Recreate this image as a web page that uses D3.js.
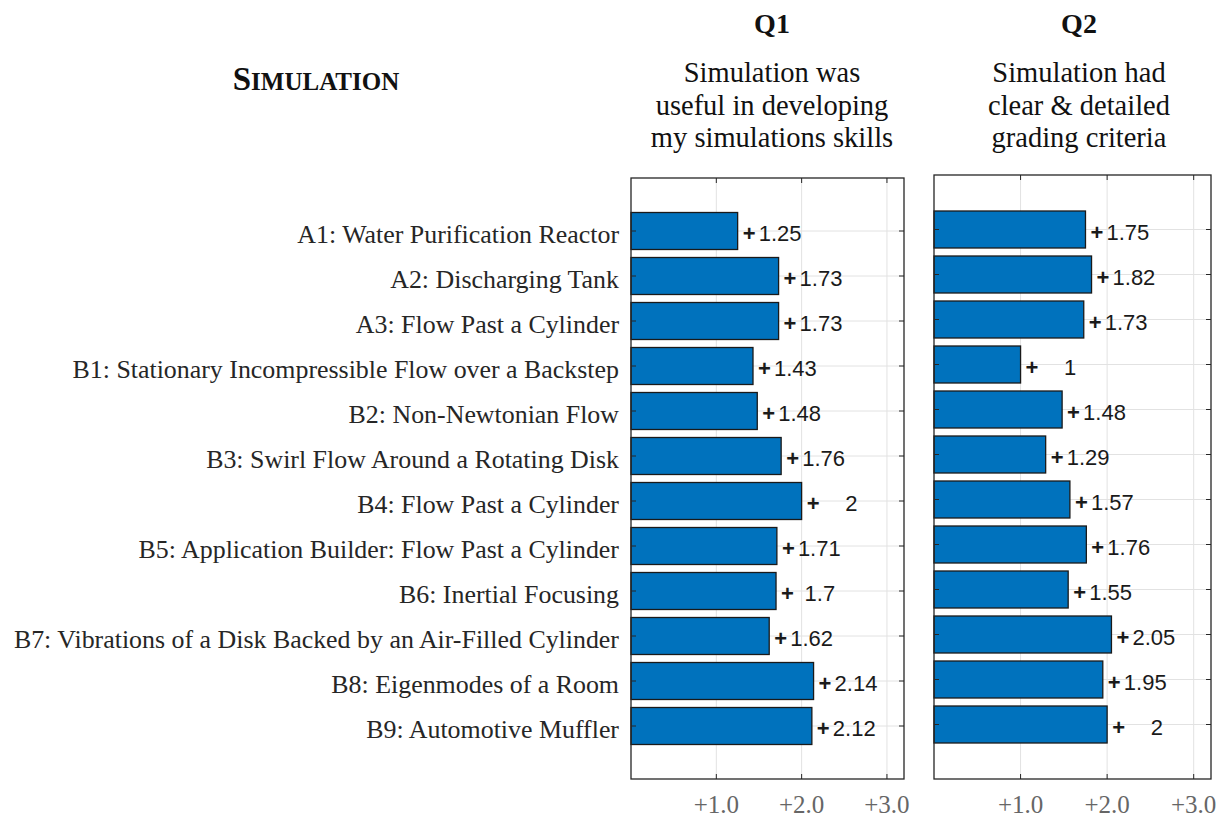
<!DOCTYPE html>
<html>
<head>
<meta charset="utf-8">
<script src="https://cdnjs.cloudflare.com/ajax/libs/d3/7.8.5/d3.min.js"></script>
<style>
  body { margin: 0; background: #fff; }
  svg { display: block; }
</style>
</head>
<body>
<div id="chart"></div>
<script>
var categories = [
  'A1: Water Purification Reactor',
  'A2: Discharging Tank',
  'A3: Flow Past a Cylinder',
  'B1: Stationary Incompressible Flow over a Backstep',
  'B2: Non-Newtonian Flow',
  'B3: Swirl Flow Around a Rotating Disk',
  'B4: Flow Past a Cylinder',
  'B5: Application Builder: Flow Past a Cylinder',
  'B6: Inertial Focusing',
  'B7: Vibrations of a Disk Backed by an Air-Filled Cylinder',
  'B8: Eigenmodes of a Room',
  'B9: Automotive Muffler'
];
var q1Values = [1.25, 1.73, 1.73, 1.43, 1.48, 1.76, 2, 1.71, 1.7, 1.62, 2.14, 2.12];
var q2Values = [1.75, 1.82, 1.73, 1, 1.48, 1.29, 1.57, 1.76, 1.55, 2.05, 1.95, 2];
var tickValues = [1, 2, 3];
var tickLabels = ['+1.0', '+2.0', '+3.0'];
var panelTitles = ['Q1', 'Q2'];
var q1Subtitle = ['Simulation was', 'useful in developing', 'my simulations skills'];
var q2Subtitle = ['Simulation had', 'clear & detailed', 'grading criteria'];

var W = 1222, H = 818;
var svg = d3.select('#chart').append('svg')
  .attr('width', W)
  .attr('height', H);

var serif = '"Liberation Serif", "Times New Roman", serif';
var sans = '"Liberation Sans", Arial, sans-serif';

// heading, drawn as small caps by hand
var head = svg.append('text')
  .attr('x', 316).attr('y', 90)
  .attr('text-anchor', 'middle')
  .style('font-family', serif)
  .style('font-weight', 'bold')
  .attr('fill', '#111');
head.append('tspan').style('font-size', '33px').text('S');
head.append('tspan').style('font-size', '25px').text('IMULATION');

var panels = [
  {values: q1Values, title: panelTitles[0], sub: q1Subtitle, left: 631, right: 904, top: 178, bottom: 779, y0: 208.5, cx: 772},
  {values: q2Values, title: panelTitles[1], sub: q2Subtitle, left: 934, right: 1211, top: 175, bottom: 779, y0: 207, cx: 1079}
];

var drawPanel = function(p, idx){
  var x = d3.scaleLinear().domain([0, 3.2]).range([p.left, p.right]);
  var y = d3.scaleBand().domain(categories)
    .range([p.y0, p.y0 + 540])
    .paddingInner(0.178).paddingOuter(0.089);
  var g = svg.append('g');

  // titles
  g.append('text')
    .attr('x', p.cx).attr('y', 33)
    .attr('text-anchor', 'middle')
    .style('font-family', serif).style('font-weight', 'bold').style('font-size', '28px')
    .attr('fill', '#111')
    .text(p.title);
  g.selectAll('text.sub').data(p.sub).enter().append('text')
    .attr('class', 'sub')
    .attr('x', p.cx)
    .attr('y', function(d, i){ return 82 + i * 32.5; })
    .attr('text-anchor', 'middle')
    .style('font-family', serif).style('font-size', '28.5px')
    .attr('fill', '#111')
    .text(function(d){ return d; });

  // grid
  g.selectAll('line.vg').data(tickValues).enter().append('line')
    .attr('x1', function(d){ return x(d); }).attr('x2', function(d){ return x(d); })
    .attr('y1', p.top).attr('y2', p.bottom)
    .attr('stroke', '#e2e2e2').attr('stroke-width', 1);
  g.selectAll('line.hg').data(categories).enter().append('line')
    .attr('x1', p.left).attr('x2', p.right)
    .attr('y1', function(d){ return y(d) + y.bandwidth() / 2; })
    .attr('y2', function(d){ return y(d) + y.bandwidth() / 2; })
    .attr('stroke', '#e2e2e2').attr('stroke-width', 1);

  // bars
  g.selectAll('rect.bar').data(p.values).enter().append('rect')
    .attr('class', 'bar')
    .attr('x', x(0))
    .attr('y', function(d, i){ return y(categories[i]); })
    .attr('width', function(d){ return x(d) - x(0); })
    .attr('height', y.bandwidth())
    .attr('fill', '#0072BD')
    .attr('stroke', '#1a1a1a').attr('stroke-width', 1.3);

  // value labels: plus sign then the number
  var lab = g.selectAll('g.lab').data(p.values).enter().append('g')
    .attr('class', 'lab')
    .style('font-family', sans).style('font-size', '22px')
    .attr('fill', '#1a1a1a');
  lab.append('text')
    .attr('x', function(d){ return x(d) + 5; })
    .attr('y', function(d, i){ return y(categories[i]) + y.bandwidth() / 2 + 10; })
    .style('font-weight', 'bold')
    .text('+');
  lab.append('text')
    .attr('x', function(d){ var s = String(d); return x(d) + 21 + (4 - s.length) * 7.5; })
    .attr('y', function(d, i){ return y(categories[i]) + y.bandwidth() / 2 + 10; })
    .text(function(d){ return String(d); });

  // ticks on all four sides
  var tl = 5;
  tickValues.forEach(function(t){
    g.append('line').attr('x1', x(t)).attr('x2', x(t)).attr('y1', p.top).attr('y2', p.top + tl)
      .attr('stroke', '#262626');
    g.append('line').attr('x1', x(t)).attr('x2', x(t)).attr('y1', p.bottom).attr('y2', p.bottom - tl)
      .attr('stroke', '#262626');
  });
  categories.forEach(function(c){
    var yy = y(c) + y.bandwidth() / 2;
    g.append('line').attr('x1', p.left).attr('x2', p.left + tl).attr('y1', yy).attr('y2', yy)
      .attr('stroke', '#262626');
    g.append('line').attr('x1', p.right).attr('x2', p.right - tl).attr('y1', yy).attr('y2', yy)
      .attr('stroke', '#262626');
  });

  // box
  g.append('rect')
    .attr('x', p.left).attr('y', p.top)
    .attr('width', p.right - p.left).attr('height', p.bottom - p.top)
    .attr('fill', 'none').attr('stroke', '#262626').attr('stroke-width', 1.3);

  // x tick labels
  g.selectAll('text.xt').data(tickValues).enter().append('text')
    .attr('class', 'xt')
    .attr('x', function(d){ return x(d); })
    .attr('y', 813)
    .attr('text-anchor', 'middle')
    .style('font-family', serif).style('font-size', '25px')
    .attr('fill', '#666')
    .text(function(d, i){ return tickLabels[i]; });

  // category labels only on the first panel
  if(idx === 0){
    g.selectAll('text.cat').data(categories).enter().append('text')
      .attr('class', 'cat')
      .attr('x', p.left - 12)
      .attr('y', function(d){ return y(d) + y.bandwidth() / 2 + 12; })
      .attr('text-anchor', 'end')
      .style('font-family', serif).style('font-size', '25.9px')
      .attr('fill', '#262626')
      .text(function(d){ return d; });
  }
}

panels.forEach(function(p, i){ drawPanel(p, i); });
</script>
</body>
</html>
